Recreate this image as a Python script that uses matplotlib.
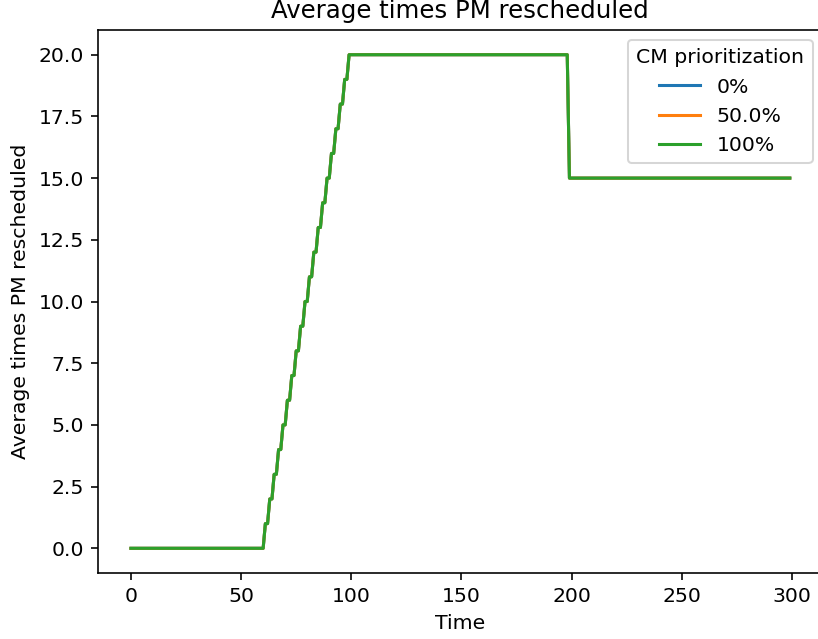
import matplotlib.pyplot as plt

time = [0, 60, 61, 62, 63, 64, 65, 66, 67, 68, 69, 70, 71, 72, 73, 74, 75, 76, 77, 78, 79,
        80, 81, 82, 83, 84, 85, 86, 87, 88, 89, 90, 91, 92, 93, 94, 95, 96, 97, 98, 99,
        198, 199, 299]
avg_0 = [0, 0, 1, 1, 2, 2, 3, 3, 4, 4, 5, 5, 6, 6, 7, 7, 8, 8, 9, 9, 10,
         10, 11, 11, 12, 12, 13, 13, 14, 14, 15, 15, 16, 16, 17, 17, 18, 18, 19, 19, 20,
         20, 15, 15]
avg_50 = list(avg_0)
avg_100 = list(avg_0)
labels = ["0%", "50.0%", "100%"]

dpi = 146.6
fig = plt.figure(figsize=(818 / dpi, 639 / dpi), dpi=dpi)
ax = fig.add_axes([0.1198, 0.1033, 0.886, 0.8497])
for y, lab in zip([avg_0, avg_50, avg_100], labels):
    ax.plot(time, y, label=lab)
ax.set_title("Average times PM rescheduled")
ax.set_xlabel("Time")
ax.set_ylabel("Average times PM rescheduled")
ax.legend(title="CM prioritization", loc="upper right")
fig.savefig("out.png", dpi=dpi)
